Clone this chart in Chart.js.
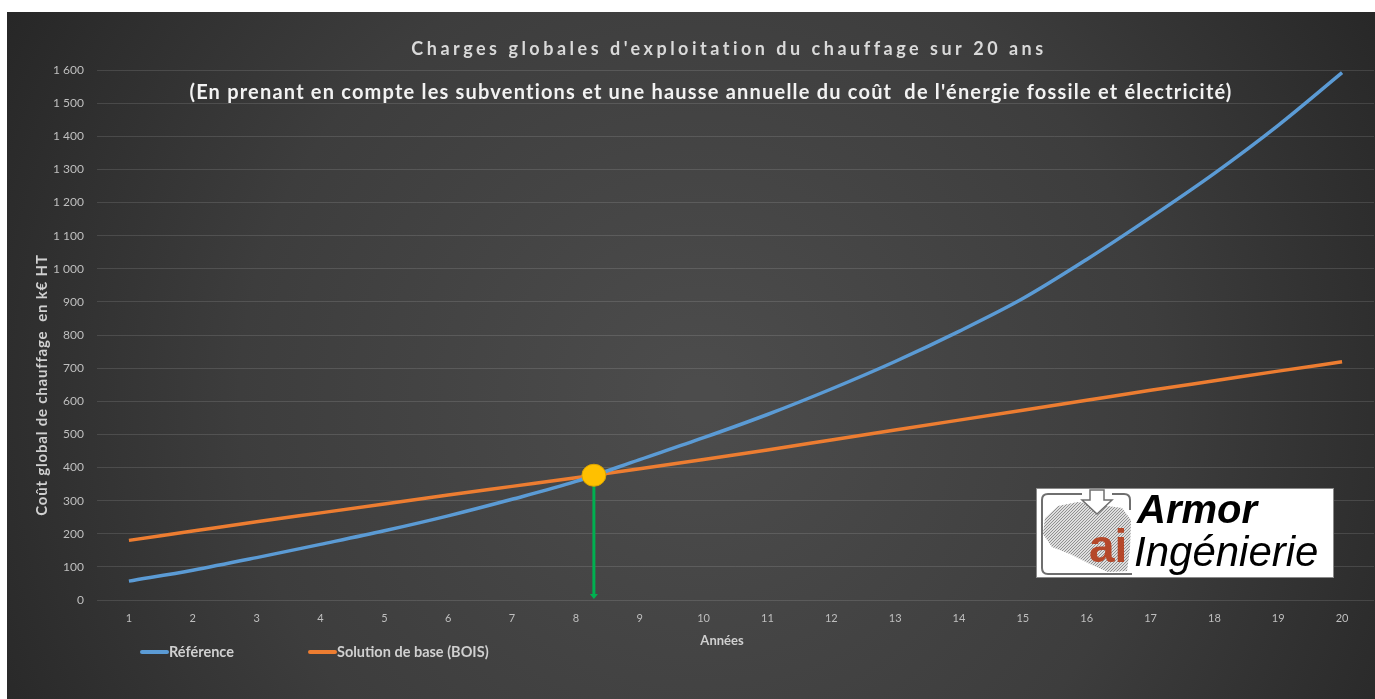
<!DOCTYPE html>
<html lang="fr">
<head>
<meta charset="utf-8">
<title>Charges globales d'exploitation du chauffage sur 20 ans</title>
<script src="https://cdn.jsdelivr.net/npm/chart.js@4.4.0/dist/chart.umd.min.js"></script>
<style>
  html, body { margin: 0; padding: 0; background: #fff; }
  #wrap { width: 1375px; height: 699px; }
</style>
</head>
<body>
<div id="wrap"><canvas id="chart" width="1375" height="699"></canvas></div>
<script>
// data (k€ HT, cumulated per year)
const years = ['1', '2', '3', '4', '5', '6', '7', '8', '9', '10', '11', '12', '13', '14', '15', '16', '17', '18', '19', '20'];
const reference = [57, 90, 128, 168, 209, 254, 304, 358, 424, 490, 560, 637, 720, 811, 910, 1028, 1155, 1288, 1433, 1592];
const bois = [180, 208, 236, 263, 290, 317, 343, 369, 396, 424, 453, 483, 513, 543, 573, 603, 633, 662, 691, 719];
const yMin = 0;
const yMax = 1600;
const yStep = 100;

const titleText = "Charges globales d'exploitation du chauffage sur 20 ans";
const subtitleText = "(En prenant en compte les subventions et une hausse annuelle du coût  de l'énergie fossile et électricité)";
const yTitle = "Coût global de chauffage  en k€ HT";
const xTitle = "Années";

const BLUE = '#5b9bd5';
const ORANGE = '#ed7d31';

// thousands with a plain space, like "1 600"
function fmt(v) {
  return String(v).replace(/\B(?=(\d{3})+(?!\d))/g, ' ');
}

// where the two curves cross (index on the category axis + value)
function crossing(a, b) {
  for (let i = 0; i < a.length - 1; i++) {
    const d0 = a[i] - b[i];
    const d1 = a[i + 1] - b[i + 1];
    if (d0 <= 0 && d1 > 0) {
      const t = d0 / (d0 - d1);
      return { idx: i + t, val: a[i] + t * (a[i + 1] - a[i]) };
    }
  }
  return null;
}

const background = {
  id: 'background',
  beforeDraw(chart) {
    const c = chart.ctx;
    c.save();
    c.fillStyle = '#ffffff';
    c.fillRect(0, 0, chart.width, chart.height);
    const g = c.createRadialGradient(700, 400, 20, 700, 400, 820);
    g.addColorStop(0, '#4c4c4c');
    g.addColorStop(0.55, '#3d3d3d');
    g.addColorStop(1, '#252525');
    c.fillStyle = g;
    c.fillRect(7, 12, chart.width - 7, chart.height - 12);
    c.restore();
  }
};

function drawLogo(c) {
  const x0 = 1036, y0 = 488, w = 298, h = 90;
  c.save();
  c.fillStyle = '#ffffff';
  c.fillRect(x0, y0, w, h);
  c.strokeStyle = '#8a8a8a';
  c.lineWidth = 1;
  c.strokeRect(x0 + 0.5, y0 + 0.5, w - 1, h - 1);

  // hatched map shape
  c.save();
  c.beginPath();
  c.moveTo(1045, 518);
  c.lineTo(1058, 506);
  c.lineTo(1078, 502);
  c.lineTo(1100, 505);
  c.lineTo(1122, 508);
  c.lineTo(1131, 520);
  c.lineTo(1130, 548);
  c.lineTo(1127, 571);
  c.lineTo(1108, 572);
  c.lineTo(1090, 564);
  c.lineTo(1070, 554);
  c.lineTo(1052, 547);
  c.lineTo(1043, 534);
  c.closePath();
  c.clip();
  c.fillStyle = '#dedede';
  c.fillRect(1040, 500, 95, 80);
  c.strokeStyle = '#909090';
  c.lineWidth = 1;
  for (let k = -100; k < 120; k += 3) {
    c.beginPath();
    c.moveTo(1040 + k, 580);
    c.lineTo(1120 + k, 500);
    c.stroke();
  }
  c.restore();

  // outline frame
  c.strokeStyle = '#6f6f6f';
  c.lineWidth = 2;
  c.beginPath();
  c.moveTo(1082, 494);
  c.lineTo(1048, 494);
  c.quadraticCurveTo(1042, 494, 1042, 500);
  c.lineTo(1042, 568);
  c.quadraticCurveTo(1042, 574, 1048, 574);
  c.lineTo(1132, 574);
  c.moveTo(1112, 494);
  c.lineTo(1124, 494);
  c.quadraticCurveTo(1130, 494, 1130, 500);
  c.lineTo(1130, 510);
  c.stroke();

  // arrow at the top
  c.fillStyle = '#ffffff';
  c.strokeStyle = '#6f6f6f';
  c.lineWidth = 1.5;
  c.beginPath();
  c.moveTo(1090, 490);
  c.lineTo(1104, 490);
  c.lineTo(1104, 500);
  c.lineTo(1112, 500);
  c.lineTo(1097, 514);
  c.lineTo(1082, 500);
  c.lineTo(1090, 500);
  c.closePath();
  c.fill();
  c.stroke();

  // "ai"
  c.fillStyle = '#b5482a';
  c.font = 'bold 46px "Liberation Sans"';
  c.textBaseline = 'alphabetic';
  c.textAlign = 'left';
  c.fillText('ai', 1089, 562, 40);

  // name
  c.fillStyle = '#000000';
  c.font = 'italic bold 40px "Liberation Sans"';
  c.fillText('Armor', 1137, 523, 128);
  c.font = 'italic 42px "Liberation Sans"';
  c.fillText('Ingénierie', 1134, 566, 198);
  c.restore();
}

const overlay = {
  id: 'overlay',
  afterDatasetsDraw(chart) {
    const c = chart.ctx;
    const x = chart.scales.x;
    const y = chart.scales.y;
    const cr = crossing(reference, bois);
    if (!cr) return;
    const px = x.getPixelForValue(cr.idx);
    const py = y.getPixelForValue(cr.val);
    const pb = y.getPixelForValue(yMin);
    c.save();
    // green arrow down to the axis
    c.strokeStyle = '#00b050';
    c.fillStyle = '#00b050';
    c.lineWidth = 3;
    c.beginPath();
    c.moveTo(px, py);
    c.lineTo(px, pb - 5);
    c.stroke();
    c.beginPath();
    c.moveTo(px - 4, pb - 6);
    c.lineTo(px + 4, pb - 6);
    c.lineTo(px, pb - 1);
    c.closePath();
    c.fill();
    // yellow dot
    c.fillStyle = '#ffc000';
    c.strokeStyle = '#d9a300';
    c.lineWidth = 1;
    c.beginPath();
    c.ellipse(px, py, 12, 11, 0, 0, Math.PI * 2);
    c.fill();
    c.stroke();
    c.restore();
  },
  afterDraw(chart) {
    const c = chart.ctx;
    c.save();
    c.textAlign = 'center';
    c.textBaseline = 'middle';

    c.fillStyle = '#d9d9d9';
    c.font = 'bold 18px Lato';
    c.letterSpacing = '3.5px';
    c.fillText(titleText, 729, 49);

    c.letterSpacing = '1.2px';
    c.fillStyle = '#f2f2f2';
    c.font = 'bold 20px Lato';
    c.fillText(subtitleText, 711, 93);

    c.letterSpacing = '0px';
    c.fillStyle = '#d0d0d0';
    c.font = 'bold 13px Lato';
    c.fillText(xTitle, 722, 641);

    c.save();
    c.translate(42, 385);
    c.rotate(-Math.PI / 2);
    c.letterSpacing = '0.8px';
    c.font = 'bold 15px Lato';
    c.fillText(yTitle, 0, 0);
    c.restore();

    // legend, from the datasets
    c.textAlign = 'left';
    c.letterSpacing = '0px';
    c.font = 'bold 14.5px Lato';
    const starts = [140, 308];
    chart.data.datasets.forEach((ds, i) => {
      const lx = starts[i];
      c.strokeStyle = ds.borderColor;
      c.lineWidth = 4;
      c.lineCap = 'round';
      c.beginPath();
      c.moveTo(lx + 2, 652);
      c.lineTo(lx + 27, 652);
      c.stroke();
      c.fillStyle = '#d0d0d0';
      c.fillText(ds.label, lx + 29, 652);
    });
    c.restore();

    drawLogo(c);
  }
};

new Chart(document.getElementById('chart'), {
  type: 'line',
  data: {
    labels: years,
    datasets: [
      {
        label: 'Référence',
        data: reference,
        borderColor: BLUE,
        backgroundColor: BLUE,
        borderWidth: 3.5,
        cubicInterpolationMode: 'monotone',
        pointRadius: 0
      },
      {
        label: 'Solution de base (BOIS)',
        data: bois,
        borderColor: ORANGE,
        backgroundColor: ORANGE,
        borderWidth: 3.5,
        cubicInterpolationMode: 'monotone',
        pointRadius: 0
      }
    ]
  },
  options: {
    responsive: false,
    animation: false,
    layout: { padding: { left: 37, right: 1, top: 70, bottom: 0 } },
    plugins: {
      legend: { display: false },
      tooltip: { enabled: false }
    },
    scales: {
      x: {
        offset: true,
        grid: { display: false },
        border: { display: false },
        ticks: { color: '#bfbfbf', font: { family: 'Lato', size: 11 }, padding: 4, maxRotation: 0 },
        afterFit(s) { s.height = 99; }
      },
      y: {
        min: yMin,
        max: yMax,
        grid: { color: 'rgba(255,255,255,0.12)', drawTicks: false },
        border: { display: false },
        ticks: {
          stepSize: yStep,
          color: '#bfbfbf',
          font: { family: 'Lato', size: 12 },
          padding: 13,
          callback: v => fmt(v)
        },
        afterFit(s) { s.width = 60; }
      }
    }
  },
  plugins: [background, overlay]
});
</script>
</body>
</html>
